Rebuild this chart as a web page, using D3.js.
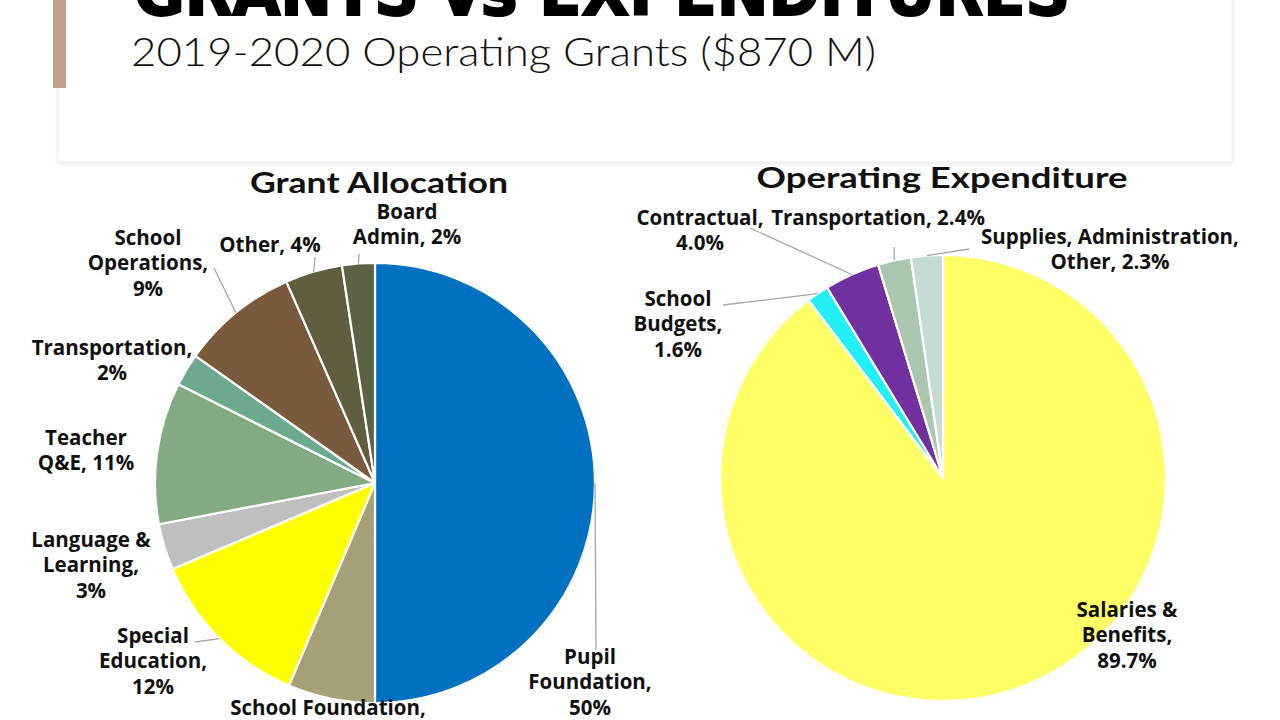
<!DOCTYPE html>
<html>
<head>
<meta charset="utf-8">
<script src="https://cdn.jsdelivr.net/npm/d3@7"></script>
<style>
  html, body { margin: 0; padding: 0; background: #ffffff; }
  svg { display: block; }
</style>
</head>
<body>
<svg id="chart" width="1280" height="720"></svg>
<script>
// ---------------- DATA ----------------
const grantCategories = ["Pupil Foundation", "School Foundation", "Special Education", "Language & Learning",
  "Teacher Q&E", "Transportation", "School Operations", "Other", "Board Admin"];
const grantValues = [50, 6.4, 12.2, 3.4, 10.4, 2.4, 8.6, 4.2, 2.4];
const grantLabels = [["Pupil", "Foundation,", "50%"], ["School Foundation,", "6%"], ["Special", "Education,", "12%"],
  ["Language &", "Learning,", "3%"], ["Teacher", "Q&E, 11%"], ["Transportation,", "2%"],
  ["School", "Operations,", "9%"], ["Other, 4%"], ["Board", "Admin, 2%"]];
const grantColors = ["#0070C0", "#A6A079", "#FFFF00", "#BFBFBF", "#84AA84", "#6DA98F", "#7A5A3D", "#615E3F", "#5B6246"];

const expCategories = ["Salaries & Benefits", "School Budgets", "Contractual", "Transportation", "Supplies, Administration, Other"];
const expValues = [89.7, 1.6, 4.0, 2.4, 2.3];
const expLabels = [["Salaries &", "Benefits,", "89.7%"], ["School", "Budgets,", "1.6%"], ["Contractual,", "4.0%"],
  ["Transportation, 2.4%"], ["Supplies, Administration,", "Other, 2.3%"]];
const expColors = ["#FFFF66", "#22EEF5", "#7030A0", "#ABC7AF", "#C5DBD4"];

const pageTitle = "GRANTS vs EXPENDITURES";
const pageSubtitle = "2019-2020 Operating Grants ($870 M)";
const chartTitles = ["Grant Allocation", "Operating Expenditure"];

// ---------------- LAYOUT ----------------
const svg = d3.select("#chart");
const defs = svg.append("defs");
const f = defs.append("filter").attr("id", "shadow").attr("x", "-5%").attr("y", "-20%").attr("width", "110%").attr("height", "140%");
f.append("feDropShadow").attr("dx", 0).attr("dy", 1).attr("stdDeviation", 2).attr("flood-color", "#000").attr("flood-opacity", 0.10);

// header card
svg.append("rect").attr("x", 58).attr("y", -10).attr("width", 1174).attr("height", 172)
  .attr("fill", "#fff").attr("stroke", "#ececec").attr("stroke-width", 1).attr("filter", "url(#shadow)");
svg.append("rect").attr("x", 53).attr("y", 0).attr("width", 13).attr("height", 88).attr("fill", "#C3A18A");

svg.append("text").attr("x", 134).attr("y", 15)
  .attr("font-family", "'Liberation Sans Narrow', 'DejaVu Sans Condensed', sans-serif")
  .attr("font-weight", 700).attr("font-size", 66)
  .attr("textLength", 936).attr("lengthAdjust", "spacingAndGlyphs")
  .attr("stroke", "#000").attr("stroke-width", 2)
  .attr("fill", "#000").text(pageTitle);

svg.append("text").attr("x", 131).attr("y", 66)
  .attr("font-family", "Lato, 'Open Sans', sans-serif")
  .attr("font-weight", 300).attr("font-size", 40)
  .attr("textLength", 745).attr("lengthAdjust", "spacingAndGlyphs")
  .attr("fill", "#111").text(pageSubtitle);

const labelFont = "'Open Sans', Lato, sans-serif";
const titleFont = "Lato, 'Open Sans', sans-serif";
const lineH = 25.5;

function drawPie(cfg) {
  const g = svg.append("g").attr("transform", `translate(${cfg.cx},${cfg.cy})`);
  const pie = d3.pie().sort(null).value(d => d.value);
  const arcs = pie(cfg.data);
  const arc = d3.arc().innerRadius(0).outerRadius(cfg.r);
  g.selectAll("path.slice").data(arcs).join("path")
    .attr("class", "slice")
    .attr("d", arc)
    .attr("fill", d => d.data.color)
    .attr("stroke", "#fff").attr("stroke-width", 2.2).attr("stroke-linejoin", "round");

  // title
  svg.append("text").attr("x", cfg.titleX).attr("y", cfg.titleY)
    .attr("text-anchor", "middle")
    .attr("font-family", titleFont).attr("font-weight", 700).attr("font-size", 29)
    .attr("textLength", cfg.titleW).attr("lengthAdjust", "spacingAndGlyphs")
    .attr("fill", "#111").text(cfg.title);

  // leader lines and labels
  arcs.forEach((a, i) => {
    const lay = cfg.layout[i];
    const mid = (a.startAngle + a.endAngle) / 2;
    const px = cfg.cx + cfg.r * Math.sin(mid);
    const py = cfg.cy - cfg.r * Math.cos(mid);
    if (lay.lead) {
      const pts = [[px, py]].concat(lay.lead);
      svg.append("path")
        .attr("d", d3.line()(pts.reverse()))
        .attr("fill", "none").attr("stroke", "#A6A6A6").attr("stroke-width", 1.3);
    }
    const t = svg.append("text")
      .attr("text-anchor", "middle")
      .attr("font-family", labelFont).attr("font-weight", 700).attr("font-size", 20.5)
      .attr("fill", "#111");
    a.data.label.forEach((line, k) => {
      t.append("tspan").attr("x", lay.x).attr("y", lay.y + k * lineH + 7.5).text(line);
    });
  });
}

drawPie({
  cx: 375, cy: 483, r: 220,
  title: chartTitles[0], titleX: 379, titleY: 193, titleW: 258,
  data: grantCategories.map((c, i) => ({ name: c, value: grantValues[i], color: grantColors[i], label: grantLabels[i] })),
  layout: [
    { x: 590, y: 656, lead: [[596, 650]] },
    { x: 328, y: 707 },
    { x: 153, y: 635, lead: [[195, 642]] },
    { x: 91, y: 539 },
    { x: 86, y: 437 },
    { x: 112, y: 347 },
    { x: 148, y: 237, lead: [[214, 268]] },
    { x: 270, y: 244, lead: [[315, 257]] },
    { x: 407, y: 211, lead: [[359, 254]] }
  ]
});

drawPie({
  cx: 943, cy: 478, r: 223,
  title: chartTitles[1], titleX: 942, titleY: 188, titleW: 371,
  data: expCategories.map((c, i) => ({ name: c, value: expValues[i], color: expColors[i], label: expLabels[i] })),
  layout: [
    { x: 1127, y: 609 },
    { x: 678, y: 298, lead: [[723, 305]] },
    { x: 700, y: 217, lead: [[750, 228]] },
    { x: 878, y: 217, lead: [[894, 247]] },
    { x: 1110, y: 236, lead: [[969, 249]] }
  ]
});
</script>
</body>
</html>
